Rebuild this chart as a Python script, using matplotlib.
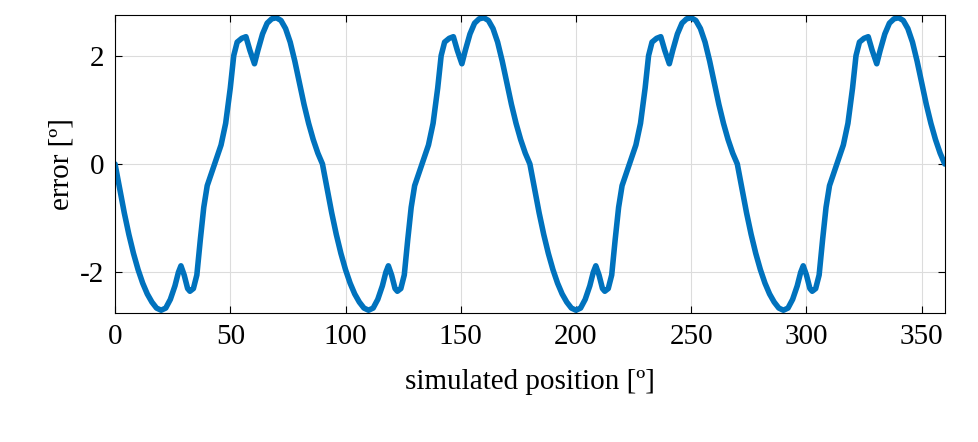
import numpy as np
import matplotlib
matplotlib.use("Agg")
import matplotlib.pyplot as plt

# one period of the error curve (deg, error)
period_x = [0, 2, 4, 6, 8, 10, 12, 14, 16, 18, 20, 22, 24, 26, 27.5, 28.6, 30, 31.5, 32.5, 34, 35.5, 37, 38.5, 40, 42, 44, 46, 48, 50, 51.5, 53, 55, 56.8, 58.5, 60.5, 62, 64, 66, 68, 70, 72, 74, 76, 78, 80, 82, 84, 86, 88]
period_y = [0.0, -0.45, -0.9, -1.3, -1.65, -1.95, -2.2, -2.4, -2.55, -2.66, -2.7, -2.66, -2.5, -2.25, -2.0, -1.88, -2.05, -2.3, -2.35, -2.3, -2.05, -1.4, -0.8, -0.4, -0.15, 0.1, 0.35, 0.75, 1.4, 2.0, 2.25, 2.32, 2.35, 2.1, 1.85, 2.1, 2.4, 2.6, 2.68, 2.7, 2.65, 2.5, 2.25, 1.9, 1.5, 1.1, 0.75, 0.45, 0.2]
periods = [0, 90, 180, 270]
end_x, end_y = 360, 0.0

x = [p + xi for p in periods for xi in period_x] + [end_x]
y = [yi for p in periods for yi in period_y] + [end_y]

plt.rcParams['font.family'] = ['Liberation Serif', 'DejaVu Serif']
plt.rcParams['axes.unicode_minus'] = False
fig = plt.figure(figsize=(9.79, 4.42), dpi=100)
ax = fig.add_axes([0.1175, 0.292, 0.8475, 0.674])
ax.plot(x, y, color='#0072BD', lw=4, solid_joinstyle='round', solid_capstyle='round')
ax.set_xlim(0, 360)
ax.set_ylim(-2.75, 2.75)
ax.set_xticks([0, 50, 100, 150, 200, 250, 300, 350])
ax.set_yticks([-2, 0, 2])
ax.grid(True, color='#dcdcdc', lw=0.8)
ax.set_axisbelow(True)
ax.tick_params(direction='in', labelsize=21, length=5, top=True, right=True, pad=8)
ax.set_xlabel('simulated position [º]', fontsize=21, labelpad=14)
ax.set_ylabel('error [º]', fontsize=21, labelpad=4)
for s in ax.spines.values():
    s.set_linewidth(0.8)
fig.savefig('out.png', dpi=100)
